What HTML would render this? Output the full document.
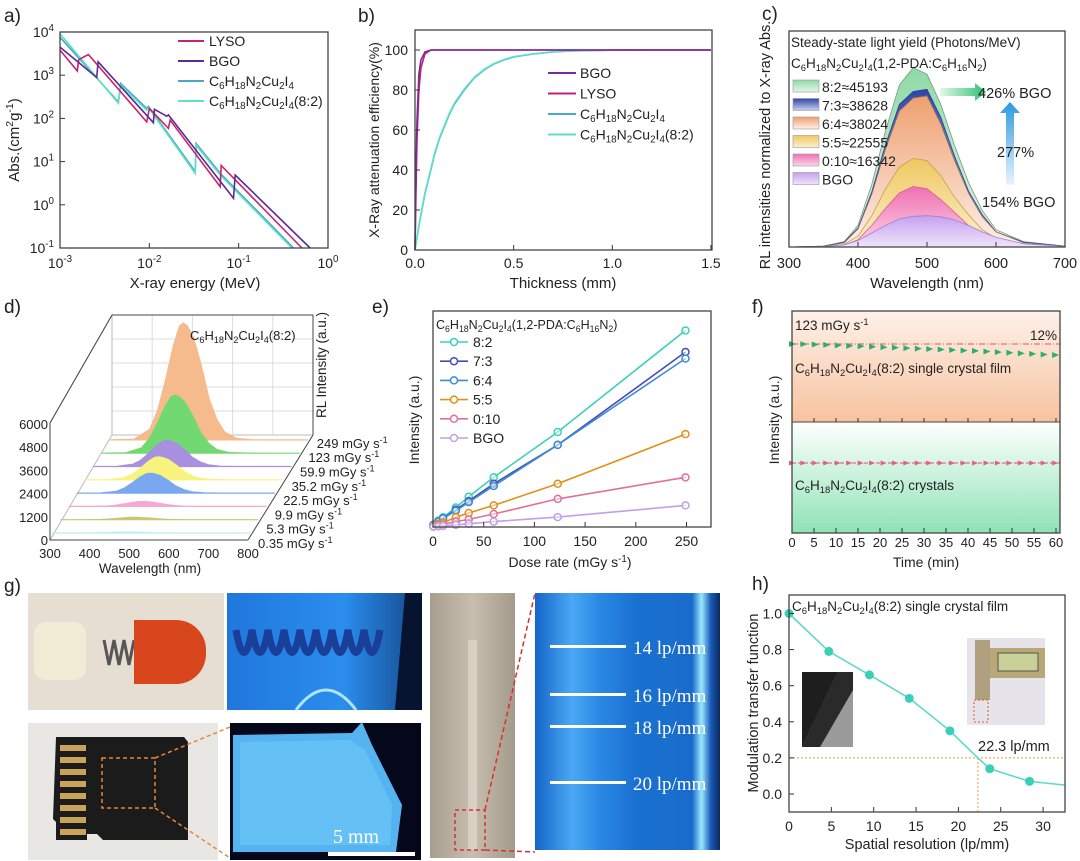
<!DOCTYPE html>
<html><head><meta charset="utf-8"><style>
body{margin:0;background:#fff;}
svg{display:block;font-family:"Liberation Sans",sans-serif;}
text{fill:#222;}
</style></head><body>
<svg id="fig" width="1080" height="861" viewBox="0 0 1080 861" xmlns="http://www.w3.org/2000/svg">
<defs>
<linearGradient id="gOr" x1="0" y1="0" x2="0" y2="1"><stop offset="0" stop-color="#fdf1e8"/><stop offset="1" stop-color="#f7c3a0"/></linearGradient>
<linearGradient id="gGr" x1="0" y1="0" x2="0" y2="1"><stop offset="0" stop-color="#ffffff"/><stop offset="1" stop-color="#8fe3b6"/></linearGradient>
<linearGradient id="c82" x1="0" y1="0" x2="0" y2="1"><stop offset="0" stop-color="#8ed9a6"/><stop offset="1" stop-color="#e6f6ea"/></linearGradient>
<linearGradient id="c73" x1="0" y1="0" x2="0" y2="1"><stop offset="0" stop-color="#3046a8"/><stop offset="1" stop-color="#c9d0f0"/></linearGradient>
<linearGradient id="c64" x1="0" y1="0" x2="0" y2="1"><stop offset="0" stop-color="#eea070"/><stop offset="1" stop-color="#fdf0e8"/></linearGradient>
<linearGradient id="c55" x1="0" y1="0" x2="0" y2="1"><stop offset="0" stop-color="#efc860"/><stop offset="1" stop-color="#fbf0d0"/></linearGradient>
<linearGradient id="c010" x1="0" y1="0" x2="0" y2="1"><stop offset="0" stop-color="#f070b0"/><stop offset="1" stop-color="#fbd6ea"/></linearGradient>
<linearGradient id="cbgo" x1="0" y1="0" x2="0" y2="1"><stop offset="0" stop-color="#c6a0f0"/><stop offset="1" stop-color="#efe4fb"/></linearGradient>
<linearGradient id="gArrG" x1="0" y1="0" x2="1" y2="0"><stop offset="0" stop-color="#e0f8ea"/><stop offset="1" stop-color="#2cc070"/></linearGradient>
<linearGradient id="gArrB" x1="0" y1="1" x2="0" y2="0"><stop offset="0" stop-color="#eaf4ff"/><stop offset="1" stop-color="#2a9ae0"/></linearGradient>
<linearGradient id="gBlue" x1="0" y1="0" x2="1" y2="0"><stop offset="0" stop-color="#1c6fd8"/><stop offset="0.6" stop-color="#2b8ff0"/><stop offset="1" stop-color="#0a2a60"/></linearGradient>
<linearGradient id="gRuler" x1="0" y1="0" x2="1" y2="0"><stop offset="0" stop-color="#a89e90"/><stop offset="0.5" stop-color="#c8beb0"/><stop offset="1" stop-color="#a49a8c"/></linearGradient>
<linearGradient id="gStripe" x1="0" y1="0" x2="1" y2="0"><stop offset="0" stop-color="#1565c8"/><stop offset="0.2" stop-color="#4aa8f4"/><stop offset="0.35" stop-color="#2a88e4"/><stop offset="0.55" stop-color="#1a70d0"/><stop offset="0.85" stop-color="#1a6ccc"/><stop offset="0.9" stop-color="#9ae8ff"/><stop offset="0.95" stop-color="#1a5ab8"/><stop offset="1" stop-color="#0a2a60"/></linearGradient>
</defs>

<g font-size="19">
<text x="4" y="22">a)</text>
<text x="358" y="22">b)</text>
<text x="762" y="20">c)</text>
<text x="4" y="313">d)</text>
<text x="372" y="313">e)</text>
<text x="752" y="313">f)</text>
<text x="4" y="592">g)</text>
<text x="752" y="590">h)</text>
</g>

<g id="photos">
<g>
<rect x="28" y="593" width="196" height="117" fill="#e6ded3"/>
<rect x="34" y="622" width="52" height="58" rx="12" fill="#f1ecd6"/>
<path d="M104 640 l5 25 l5 -25 l5 25 l5 -25 l5 25 l5 -25" stroke="#555" stroke-width="3" fill="none"/>
<rect x="134" y="620" width="72" height="64" rx="30" fill="#d8461e"/>
<rect x="134" y="620" width="30" height="64" fill="#d8461e"/>
</g>
<g>
<rect x="227" y="593" width="195" height="117" fill="#2a8ae8"/>
<rect x="227" y="593" width="195" height="117" fill="url(#gBlue)" opacity="0.7"/>
<path d="M236 630 q8 45 16 0 q8 45 16 0 q8 45 16 0 q8 45 16 0 q8 45 16 0 q8 45 16 0 q8 45 16 0 q8 45 16 0 q8 45 16 0" stroke="#1a3f98" stroke-width="7" fill="none"/>
<path d="M296 710 q30 -40 60 0" stroke="#aee4ff" stroke-width="3" fill="none"/>
<polygon points="405,593 422,593 422,710 395,710" fill="#061430"/>
</g>
<g>
<rect x="28" y="723" width="190" height="137" fill="#e9e7e3"/>
<path d="M56 737 h128 l4 5 v98 h-85 l-6 -6 h-10 v6 h-31 v-18 l-3 -3 z" fill="#1b1b1b"/>
<g fill="#c9a35a"><rect x="60" y="745" width="26" height="6"/><rect x="60" y="757" width="26" height="6"/><rect x="60" y="769" width="26" height="6"/><rect x="60" y="781" width="26" height="6"/><rect x="60" y="793" width="26" height="6"/><rect x="60" y="805" width="26" height="6"/><rect x="60" y="817" width="26" height="6"/><rect x="60" y="829" width="26" height="6"/></g>
<rect x="102" y="758" width="53" height="50" fill="none" stroke="#e8863a" stroke-width="1.5" stroke-dasharray="4,3"/>
</g>
<path d="M155 758 L230 727 M155 808 L230 858" stroke="#e8863a" stroke-width="1.5" stroke-dasharray="4,3"/>
<g>
<rect x="230" y="723" width="191" height="137" fill="#05081a"/>
<polygon points="233,735 352,733 362,722 372,745 402,805 396,852 233,852" fill="#55b4f0"/>
<polygon points="240,742 350,740 365,750 392,805 390,845 240,845" fill="#6cc4f8" opacity="0.7"/>
<text x="333" y="843" font-family="Liberation Serif" font-size="20" style="fill:#fff">5 mm</text>
<rect x="328" y="852" width="87" height="4" fill="#fff"/>
</g>
<g>
<rect x="430" y="593" width="85" height="265" fill="url(#gRuler)"/>
<rect x="468" y="640" width="9" height="210" fill="#d8d0c4"/>
<rect x="455" y="810" width="30" height="40" fill="none" stroke="#d83030" stroke-width="1.5" stroke-dasharray="4,3"/>
</g>
<path d="M485 810 L535 593 M485 850 L535 852" stroke="#d83030" stroke-width="1.5" stroke-dasharray="5,3"/>
<g>
<rect x="535" y="593" width="185" height="257" fill="url(#gStripe)"/>
<g fill="#fff"><rect x="550" y="645" width="76" height="3"/><rect x="550" y="693" width="76" height="3"/><rect x="550" y="725" width="76" height="3"/><rect x="550" y="781" width="76" height="3"/></g>
<g font-family="Liberation Serif" font-size="19" style="fill:#fff">
<text x="633" y="654" style="fill:#fff">14 lp/mm</text>
<text x="633" y="702" style="fill:#fff">16 lp/mm</text>
<text x="633" y="734" style="fill:#fff">18 lp/mm</text>
<text x="633" y="790" style="fill:#fff">20 lp/mm</text>
</g>
</g>
</g>
</svg>
<script>
const NS='http://www.w3.org/2000/svg';
const svg=document.getElementById('fig');
function mk(tag,attrs,name,parent){
  const e=document.createElementNS(NS,tag);
  for(const k in attrs) e.setAttribute(k,attrs[k]);
  
  
  (parent||svg).appendChild(e);
  return e;
}
function sub(s){return s.replace(/_(\d+)/g,'<tspan font-size="70%" dy="3">$1</tspan><tspan dy="-3">\u200b</tspan>');}
function sup(s){return s.replace(/\^(-?\d+)/g,'<tspan font-size="70%" dy="-6">$1</tspan><tspan dy="6">\u200b</tspan>');}
function txt(x,y,html,name,opt,parent){const t=mk('text',Object.assign({x:x,y:y},opt||{}),name,parent);t.innerHTML=html;return t;}
function line(x1,y1,x2,y2,name,opt,parent){return mk('line',Object.assign({x1:x1,y1:y1,x2:x2,y2:y2,stroke:'#333','stroke-width':1},opt||{}),name,parent);}
function poly(pts,name,opt,parent){return mk('polyline',Object.assign({points:pts.map(p=>p[0].toFixed(1)+','+p[1].toFixed(1)).join(' '),fill:'none'},opt||{}),name,parent);}
function frame(x1,y1,x2,y2,name){mk('rect',{x:x1,y:y1,width:x2-x1,height:y2-y1,fill:'none',stroke:'#444','stroke-width':1.3},name);}
const FORM='C_6H_18N_2Cu_2I_4';

/* ===== Panel a data ===== */
const aYTicks=[4,3,2,1,0,-1];
const aXTicks=[-3,-2,-1,0];
const aLysoE=[-3,-2.806,-2.791,-2.682,-2.029,-1.999,-1.786,-1.767,-1.207,-1.196,-0.292];
const aLysoA=[3.58,3.10,3.36,3.48,1.92,2.23,1.77,1.96,0.42,0.91,-1];
const aBgoE=[-3,-2.589,-2.574,-1.954,-1.943,-1.805,-1.786,-1.058,-1.039,-0.2];
const aBgoA=[3.65,2.95,3.31,1.90,2.21,2.05,2.08,0.15,0.69,-1];
const aCuE=[-3,-2.346,-2.320,-2.029,-2.010,-1.487,-1.476,-1.207,-0.385];
const aCuA=[3.88,2.38,2.81,2.23,2.28,0.77,1.42,0.73,-1];
const a82E=[-3,-2.346,-2.320,-2.029,-2.010,-1.487,-1.476,-1.207,-0.404];
const a82A=[3.96,2.35,2.77,2.19,2.25,0.73,1.38,0.69,-1];
(function(){
  const X=v=>60+(v+3)*89.33, Y=v=>32+(4-v)*43.2;
  const g=mk('g',{},'chart-a-plot');
  [[aCuE,aCuA,'#4aa8c0','series-cu'],[a82E,a82A,'#5fe0c8','series-82'],[aLysoE,aLysoA,'#c8246a','series-lyso'],[aBgoE,aBgoA,'#5b2a9a','series-bgo']].forEach(s=>{
    poly(s[0].map((e,i)=>[X(e),Y(s[1][i])]),s[3],{stroke:s[2],'stroke-width':1.6},g);
  });
  frame(60,32,328,248,'chart-a-frame');
  aYTicks.forEach(t=>{line(60,Y(t),65,Y(t),'y-tick',{},g);txt(54,Y(t)+5,sup('10^'+t),'y-tick-label',{'font-size':14,'text-anchor':'end'},g);});
  aXTicks.forEach(t=>{line(X(t),248,X(t),243,'x-tick',{},g);txt(X(t),268,sup('10^'+t),'x-tick-label',{'font-size':14,'text-anchor':'middle'},g);});
  txt(195,288,'X-ray energy (MeV)','x-axis-title',{'font-size':15,'text-anchor':'middle'},g);
  txt(0,0,'Abs.(cm<tspan font-size="70%" dy="-6">2</tspan><tspan dy="6">g</tspan><tspan font-size="70%" dy="-6">-1</tspan><tspan dy="6">)</tspan>','y-axis-title',{'font-size':15,'text-anchor':'middle',transform:'translate(19,140) rotate(-90)'},g);
  const leg=[['LYSO','#c8246a'],['BGO','#5b2a9a'],[sub(FORM),'#4aa8c0'],[sub(FORM)+'(8:2)','#5fe0c8']];
  leg.forEach((l,i)=>{const y=41+i*20;line(178,y,204,y,'legend-line',{stroke:l[1],'stroke-width':2},g);txt(209,y+5,l[0],'legend-entry',{'font-size':14},g);});
})();

/* ===== Panel b data ===== */
const bYTicks=[0,20,40,60,80,100];
const bXTicks=['0.0','0.5','1.0','1.5'];
const bFastT=[0,0.005,0.01,0.02,0.03,0.05,0.08,1.5];
const bBgo=[0,40,65,88,95,99,100,100];
const bLyso=[0,30,55,80,91,98,100,100];
const bSlowT=[0,0.01,0.02,0.035,0.05,0.075,0.1,0.125,0.15,0.175,0.2,0.25,0.3,0.35,0.4,0.45,0.5,0.6,0.7,0.8,1.0,1.2,1.5];
const bCu=[0,6,12,20,28,38,48,56,62,68,73,80,86,90,93,95,96.5,98,99,99.5,99.9,100,100];
const b82=[0,6.3,12.5,20.5,28.5,38.5,48.5,56.5,62.5,68.5,73.5,80.5,86.3,90.3,93.2,95.2,96.7,98.1,99.1,99.6,99.9,100,100];
(function(){
  const X=v=>415+v*197.3, Y=v=>250-v*2;
  const g=mk('g',{},'chart-b-plot');
  poly(bSlowT.map((t,i)=>[X(t),Y(bCu[i])]),'series-cu',{stroke:'#4aa8c8','stroke-width':1.6},g);
  poly(bSlowT.map((t,i)=>[X(t),Y(b82[i])]),'series-82',{stroke:'#5ee0c8','stroke-width':1.6},g);
  poly(bFastT.map((t,i)=>[X(t),Y(bLyso[i])]),'series-lyso',{stroke:'#c0207a','stroke-width':1.6},g);
  poly(bFastT.map((t,i)=>[X(t),Y(bBgo[i])]),'series-bgo',{stroke:'#7b2a9a','stroke-width':1.6},g);
  frame(415,30,712,250,'chart-b-frame');
  bYTicks.forEach(t=>{line(415,Y(t),420,Y(t),'y-tick',{},g);txt(408,Y(t)+5,String(t),'y-tick-label',{'font-size':14,'text-anchor':'end'},g);});
  bXTicks.forEach(t=>{const x=X(parseFloat(t));line(x,250,x,245,'x-tick',{},g);txt(x,268,t,'x-tick-label',{'font-size':14,'text-anchor':'middle'},g);});
  txt(563,288,'Thickness (mm)','x-axis-title',{'font-size':15,'text-anchor':'middle'},g);
  txt(0,0,'X-Ray attenuation efficiency(%)','y-axis-title',{'font-size':14,'text-anchor':'middle',transform:'translate(379,140) rotate(-90)'},g);
  const leg=[['BGO','#7b2a9a'],['LYSO','#c0207a'],[sub(FORM),'#4aa8c8'],[sub(FORM)+'(8:2)','#5ee0c8']];
  leg.forEach((l,i)=>{const y=73+i*20.5;line(548,y,576,y,'legend-line',{stroke:l[1],'stroke-width':2},g);txt(580,y+5,l[0],'legend-entry',{'font-size':14},g);});
})();

/* ===== Panel c data ===== */
const cWl=[300,350,380,400,420,440,460,480,500,520,540,560,580,600,640,700];
const cXTicks=[300,400,500,600,700];
const c82=[0,0.004,0.025,0.1,0.29,0.54,0.75,0.83,0.8,0.66,0.47,0.3,0.17,0.08,0.025,0.004];
const c73=[0,0.004,0.022,0.088,0.255,0.475,0.66,0.72,0.73,0.6,0.42,0.26,0.15,0.07,0.022,0.004];
const c64=[0,0.003,0.02,0.084,0.245,0.455,0.63,0.69,0.70,0.57,0.4,0.25,0.14,0.07,0.02,0.003];
const c55=[0,0.002,0.012,0.05,0.145,0.27,0.37,0.41,0.4,0.33,0.23,0.15,0.08,0.04,0.012,0.002];
const c010=[0,0.001,0.008,0.034,0.1,0.18,0.25,0.28,0.27,0.22,0.16,0.1,0.056,0.028,0.008,0.001];
const cBgo=[0,0.002,0.01,0.03,0.065,0.1,0.13,0.142,0.145,0.14,0.125,0.1,0.07,0.045,0.015,0.003];
const cLabels=['8:2≈45193','7:3≈38628','6:4≈38024','5:5≈22555','0:10≈16342','BGO'];
(function(){
  const X=v=>789+(v-300)*0.69, Y=v=>247-v*216;
  const g=mk('g',{},'chart-c-plot');
  const series=[[c82,'url(#c82)','#7a9a80','area-82'],[c73,'url(#c73)','#283c90','area-73'],[c64,'url(#c64)','#8a7060','area-64'],[c55,'url(#c55)','#c0a050','area-55'],[c010,'url(#c010)','#d06090','area-010'],[cBgo,'url(#cbgo)','#a080d0','area-bgo']];
  series.forEach(s=>{
    const pts=cWl.map((w,i)=>X(w).toFixed(1)+','+Y(s[0][i]).toFixed(1)).join(' ');
    mk('polygon',{points:X(300)+','+Y(0)+' '+pts+' '+X(700)+','+Y(0),fill:s[1],stroke:s[2],'stroke-width':0.8},s[3],g);
  });
  frame(789,31,1065,247,'chart-c-frame');
  cXTicks.forEach(t=>{line(X(t),247,X(t),242,'x-tick',{},g);txt(X(t),268,String(t),'x-tick-label',{'font-size':14.5,'text-anchor':'middle'},g);});
  txt(927,288,'Wavelength (nm)','x-axis-title',{'font-size':15,'text-anchor':'middle'},g);
  txt(0,0,'RL intensities normalized to X-ray Abs.','y-axis-title',{'font-size':14.5,'text-anchor':'middle',transform:'translate(770,145) rotate(-90)'},g);
  txt(791,47,'Steady-state light yield (Photons/MeV)','legend-title',{'font-size':13.5},g);
  txt(791,68,sub(FORM)+'(1,2-PDA:'+sub('C_6H_16N_2')+')','legend-subtitle',{'font-size':13.5},g);
  const fills=['url(#c82)','url(#c73)','url(#c64)','url(#c55)','url(#c010)','url(#cbgo)'];
  cLabels.forEach((l,i)=>{const y=80+i*18.5;mk('rect',{x:793,y:y,width:26,height:12,fill:fills[i],stroke:'#999','stroke-width':0.6},'legend-swatch',g);txt(822,y+12,l,'legend-entry',{'font-size':14},g);});
  mk('polygon',{points:'940,88 975,88 975,83 986,92 975,101 975,96 940,96',fill:'url(#gArrG)'},'arrow-426',g);
  mk('polygon',{points:'1006,185 1006,113 1000,113 1010,102 1020,113 1014,113 1014,185',fill:'url(#gArrB)'},'arrow-277',g);
  txt(978,98,'426% BGO','annotation-426',{'font-size':14.5},g);
  txt(997,157,'277%','annotation-277',{'font-size':14.5},g);
  txt(982,207,'154% BGO','annotation-154',{'font-size':14.5},g);
})();

/* ===== Panel d data ===== */
const dWl=[300,360,400,420,440,460,475,485,495,510,530,550,570,590,620,660,720,800];
const dShape=[0,0.006,0.09,0.25,0.51,0.81,0.97,1,0.975,0.88,0.64,0.35,0.17,0.065,0.012,0.001,0,0];
const dDoses=['0.35','5.3','9.9','22.5','35.2','59.9','123','249'];
const dPeaks=[50,120,250,1030,1190,1350,3000,6050];
const dColors=['#bfeeee','#c8c870','#f5a8d8','#7aa8f0','#f8f27e','#a98fe0','#72d872','#f6bb8c'];
const dYTicks=[0,1200,2400,3600,4800,6000];
const dXTicks=[300,400,500,600,700,800];
(function(){
  const g=mk('g',{},'chart-d-plot');
  const gc='#bbb';
  mk('polygon',{points:'112,315 313,315 313,435 112,435',fill:'#fff',stroke:gc,'stroke-width':1},'back-wall',g);
  for(let k=1;k<5;k++){const x=112+k*40.2;line(x,315,x,435,'grid-line',{stroke:'#ddd'},g);}
  for(let k=1;k<5;k++){const y=315+k*24;line(112,y,313,y,'grid-line',{stroke:'#ddd'},g);}
  mk('polygon',{points:'50,423 112,315 112,435 50,540',fill:'none',stroke:gc},'left-wall',g);
  line(50,423,112,315,'wall-edge',{stroke:'#444'},g);
  line(112,315,313,315,'wall-edge',{stroke:'#444'},g);
  line(313,315,313,435,'wall-edge',{stroke:'#444'},g);
  line(50,423,50,540,'z-axis',{stroke:'#444'},g);
  line(50,540,248,540,'x-axis',{stroke:'#444'},g);
  line(248,540,313,435,'depth-axis',{stroke:'#444'},g);
  for(let i=7;i>=0;i--){
    const ox=52+i*8.3, oy=533-i*13.3;
    const X=w=>ox+(w-300)*0.396;
    const sc=116/6000;
    const pts=dWl.map((w,k)=>X(w).toFixed(1)+','+(oy-dShape[k]*dPeaks[i]*sc).toFixed(1)).join(' ');
    mk('polygon',{points:X(300)+','+oy+' '+pts+' '+X(800)+','+oy,fill:dColors[i],stroke:dColors[i],'stroke-width':1.2},'spectrum-'+dDoses[i],g);
    txt(258+i*8.4,548-i*14.3,dDoses[i]+' mGy s<tspan font-size="70%" dy="-5">-1</tspan>','dose-label',{'font-size':13},g);
  }
  dYTicks.forEach((t,k)=>{const y=540-t*116/6000;txt(48,y+5,String(t),'z-tick-label',{'font-size':13,'text-anchor':'end'},g);});
  dXTicks.forEach(t=>{txt(50+(t-300)*0.396,558,String(t),'x-tick-label',{'font-size':13,'text-anchor':'middle'},g);});
  txt(150,573,'Wavelength (nm)','x-axis-title',{'font-size':13.5,'text-anchor':'middle'},g);
  txt(0,0,'RL Intensity (a.u.)','z-axis-title',{'font-size':13.5,'text-anchor':'middle',transform:'translate(326,365) rotate(-90)'},g);
  txt(190,340,sub(FORM)+'(8:2)','chart-d-title',{'font-size':13},g);
})();

/* ===== Panel e data ===== */
const eDose=[0.35,5.3,9.9,22.5,35.2,59.9,123,249];
const eXTicks=[0,50,100,150,200,250];
const e82=[0.01,0.03,0.045,0.09,0.14,0.23,0.44,0.91];
const e73=[0.01,0.025,0.04,0.08,0.12,0.2,0.38,0.81];
const e64=[0.01,0.025,0.04,0.075,0.115,0.19,0.38,0.78];
const e55=[0.005,0.015,0.02,0.045,0.065,0.1,0.2,0.43];
const e010=[0.002,0.008,0.012,0.025,0.035,0.06,0.13,0.23];
const eBgo=[0.001,0.003,0.005,0.01,0.015,0.025,0.046,0.1];
const eNames=['8:2','7:3','6:4','5:5','0:10','BGO'];
(function(){
  const X=v=>433+v*1.014, Y=v=>527-v*216;
  const g=mk('g',{},'chart-e-plot');
  const cols=['#3ccfb8','#4a4ab8','#3a8ed0','#e0901a','#e0709a','#c0a0e8'];
  [e82,e73,e64,e55,e010,eBgo].forEach((s,j)=>{
    poly(eDose.map((d,i)=>[X(d),Y(s[i])]),'series-'+eNames[j],{stroke:cols[j],'stroke-width':1.6},g);
    eDose.forEach((d,i)=>mk('circle',{cx:X(d),cy:Y(s[i]),r:3.5,fill:'#fff','fill-opacity':0.5,stroke:cols[j],'stroke-width':1.5},'point-'+eNames[j],g));
  });
  frame(433,311,711,527,'chart-e-frame');
  eXTicks.forEach(t=>{line(X(t),527,X(t),522,'x-tick',{},g);txt(X(t),546,String(t),'x-tick-label',{'font-size':14,'text-anchor':'middle'},g);});
  txt(570,567,'Dose rate (mGy s<tspan font-size="70%" dy="-5">-1</tspan><tspan dy="5">)</tspan>','x-axis-title',{'font-size':14,'text-anchor':'middle'},g);
  txt(0,0,'Intensity (a.u.)','y-axis-title',{'font-size':14,'text-anchor':'middle',transform:'translate(419,420) rotate(-90)'},g);
  txt(436,329,sub(FORM)+'(1,2-PDA:'+sub('C_6H_16N_2')+')','legend-title',{'font-size':12.5},g);
  eNames.forEach((n,j)=>{const y=342+j*19.2;line(440,y,468,y,'legend-line',{stroke:cols[j],'stroke-width':1.6},g);mk('circle',{cx:454,cy:y,r:3.5,fill:'#fff',stroke:cols[j],'stroke-width':1.5},'legend-marker',g);txt(473,y+5,n,'legend-entry',{'font-size':14},g);});
})();

/* ===== Panel f data ===== */
const fTime=[0,2.6,5.2,7.8,10.4,13,15.6,18.2,20.8,23.4,26,28.6,31.2,33.8,36.4,39,41.6,44.2,46.8,49.4,52,54.6,57.2,59.8];
const fFilm=[1,0.998,0.995,0.99,0.985,0.98,0.975,0.97,0.965,0.96,0.955,0.95,0.945,0.94,0.935,0.93,0.925,0.918,0.912,0.905,0.898,0.892,0.886,0.88];
const fCrys=[1,1,1,1,1,1,1,1,1,1,1,1,1,1,1,1,1,1,1,1,1,1,1,1];
const fXTicks=[0,5,10,15,20,25,30,35,40,45,50,55,60];
(function(){
  const X=v=>792+v*4.4;
  const Yt=v=>344+(1-v)*92, Yb=v=>463+(1-v)*92;
  const g=mk('g',{},'chart-f-plot');
  mk('rect',{x:792,y:311,width:268,height:111,fill:'url(#gOr)'},'film-region',g);
  mk('rect',{x:792,y:422,width:268,height:111,fill:'url(#gGr)'},'crystal-region',g);
  line(792,344,1060,344,'reference-line-film',{stroke:'#e05070','stroke-dasharray':'6,2,1,2','stroke-width':1},g);
  line(792,463,1060,463,'reference-line-crystal',{stroke:'#e05070','stroke-dasharray':'4,2','stroke-width':1},g);
  fTime.forEach((t,i)=>{const x=X(t),y=Yt(fFilm[i]);mk('polygon',{points:(x-3)+','+(y-3)+' '+(x+4)+','+y+' '+(x-3)+','+(y+3),fill:'#2fae6a'},'film-point',g);});
  fTime.forEach((t,i)=>{const x=X(t),y=Yb(fCrys[i]);mk('polygon',{points:(x-3)+','+(y-2.5)+' '+(x+3)+','+y+' '+(x-3)+','+(y+2.5),fill:'#e06080'},'crystal-point',g);});
  frame(792,311,1060,533,'chart-f-frame');
  line(792,422,1060,422,'divider',{stroke:'#444'},g);
  fXTicks.forEach(t=>{line(X(t),533,X(t),528,'x-tick',{},g);line(X(t),422,X(t),418,'x-tick',{},g);txt(X(t),547,String(t),'x-tick-label',{'font-size':13,'text-anchor':'middle'},g);});
  txt(926,567,'Time (min)','x-axis-title',{'font-size':14,'text-anchor':'middle'},g);
  txt(0,0,'Intensity (a.u.)','y-axis-title',{'font-size':14,'text-anchor':'middle',transform:'translate(779,420) rotate(-90)'},g);
  txt(795,330,'123 mGy s<tspan font-size="70%" dy="-5">-1</tspan>','dose-annotation',{'font-size':13.5},g);
  txt(1030,340,'12%','drop-annotation',{'font-size':13.5},g);
  txt(795,373,sub(FORM)+'(8:2) single crystal film','film-label',{'font-size':13.5},g);
  txt(795,490,sub(FORM)+'(8:2)  crystals','crystal-label',{'font-size':13.5},g);
})();

/* ===== Panel h data ===== */
const hRes=[0,4.7,9.5,14.2,19,23.7,28.4];
const hMtf=[1.0,0.79,0.66,0.53,0.35,0.14,0.07];
const hLineRes=[0,4.7,9.5,14.2,19,22.3,23.7,28.4,32.5];
const hLineMtf=[1.0,0.79,0.66,0.53,0.35,0.2,0.14,0.07,0.05];
const hYTicks=['0.0','0.2','0.4','0.6','0.8','1.0'];
const hXTicks=[0,5,10,15,20,25,30];
const hCut=22.3, hCutMtf=0.2;
(function(){
  const X=v=>789+v*8.47, Y=v=>794-v*180.5;
  const g=mk('g',{},'chart-h-plot');
  line(789,Y(hCutMtf),1065,Y(hCutMtf),'threshold-line',{stroke:'#e0a030','stroke-dasharray':'2,2'},g);
  line(X(hCut),Y(hCutMtf),X(hCut),812,'cutoff-line',{stroke:'#e0a030','stroke-dasharray':'2,2'},g);
  poly(hLineRes.map((r,i)=>[X(r),Y(hLineMtf[i])]),'mtf-line',{stroke:'#5fd8c8','stroke-width':1.6},g);
  hRes.forEach((r,i)=>mk('circle',{cx:X(r),cy:Y(hMtf[i]),r:4.5,fill:'#3ccfb8'},'mtf-point',g));
  frame(789,595,1065,812,'chart-h-frame');
  hYTicks.forEach(t=>{const y=Y(parseFloat(t));line(789,y,794,y,'y-tick',{},g);txt(782,y+5,t,'y-tick-label',{'font-size':14,'text-anchor':'end'},g);});
  hXTicks.forEach(t=>{line(X(t),812,X(t),807,'x-tick',{},g);txt(X(t),831,String(t),'x-tick-label',{'font-size':14,'text-anchor':'middle'},g);});
  txt(927,849,'Spatial resolution (lp/mm)','x-axis-title',{'font-size':14.5,'text-anchor':'middle'},g);
  txt(0,0,'Modulation transfer function','y-axis-title',{'font-size':14.5,'text-anchor':'middle',transform:'translate(758,703) rotate(-90)'},g);
  txt(792,611,sub(FORM)+'(8:2) single crystal film','chart-h-title',{'font-size':13.5},g);
  txt(978,751,'22.3 lp/mm','cutoff-annotation',{'font-size':14.5},g);
  mk('rect',{x:802,y:672,width:51,height:75,fill:'#9a9a9a'},'edge-inset',g);
  mk('polygon',{points:'802,672 838,672 802,747',fill:'#1e1e1e'},'edge-inset-dark',g);
  mk('polygon',{points:'838,672 853,672 853,690 820,747 802,747',fill:'#2a2a2a'},'edge-inset-dark2',g);
  mk('rect',{x:967,y:638,width:78,height:87,fill:'#e6e4ea'},'caliper-inset',g);
  mk('rect',{x:990,y:648,width:55,height:30,fill:'#b8a878'},'caliper-body',g);
  mk('rect',{x:998,y:653,width:40,height:18,fill:'#c8d098',stroke:'#555'},'caliper-display',g);
  mk('rect',{x:975,y:640,width:15,height:60,fill:'#b0a080'},'caliper-jaw',g);
  mk('rect',{x:974,y:700,width:14,height:22,fill:'none',stroke:'#e05a20','stroke-dasharray':'2,2'},'caliper-highlight',g);
})();
</script>
</body></html>
